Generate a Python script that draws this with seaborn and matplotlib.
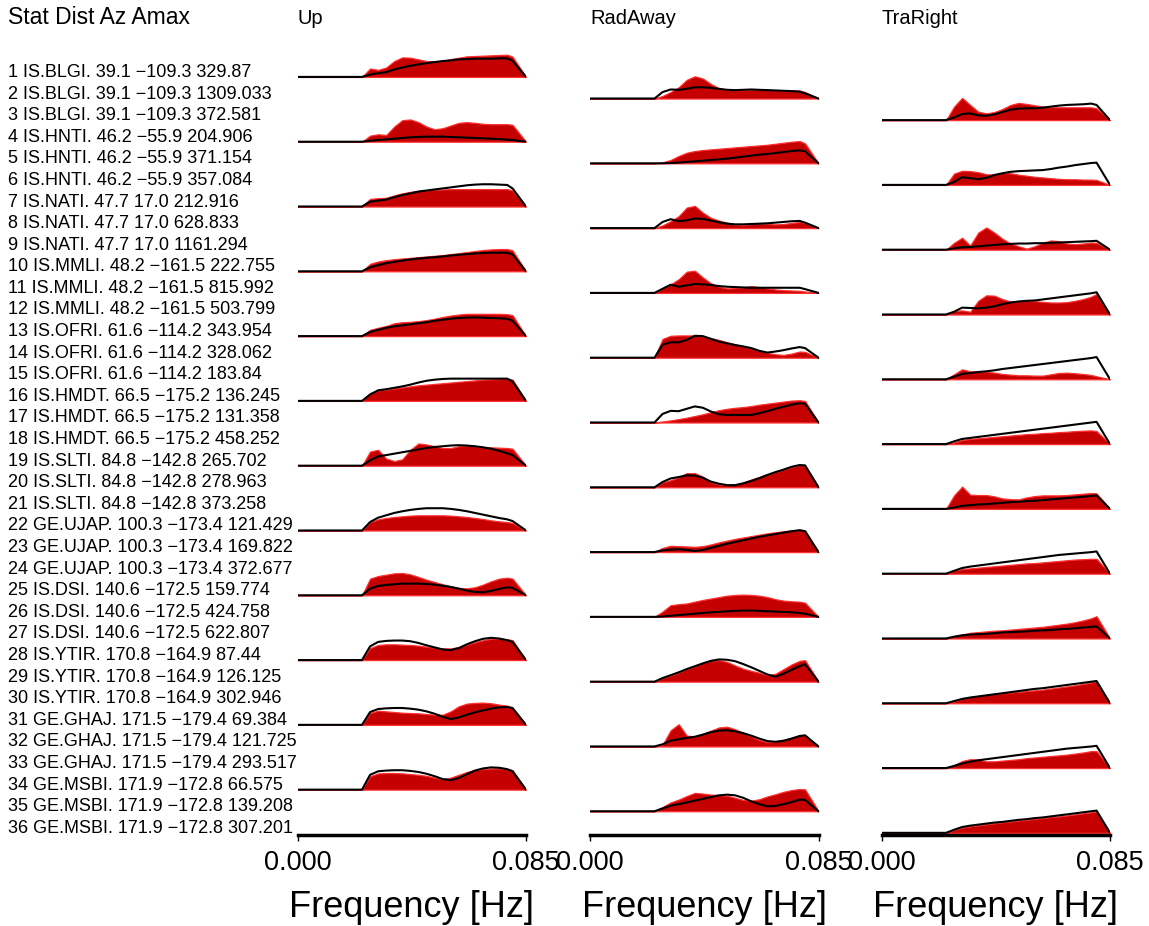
import numpy as np
import seaborn as sns
import matplotlib
matplotlib.use("Agg")
import matplotlib.pyplot as plt
from matplotlib.transforms import blended_transform_factory

# Frequency samples (Hz) shared by every spectrum
freq = [0.0, 0.024, 0.027, 0.030, 0.033, 0.036, 0.039, 0.042, 0.045, 0.048, 0.051,
        0.054, 0.057, 0.060, 0.063, 0.066, 0.069, 0.072, 0.075, 0.078, 0.080, 0.085]

components = ["Up", "RadAway", "TraRight"]
freq_ticks = [0.0, 0.085]
freq_ticklabels = ["0.000", "0.085"]

# Stations (each one contributes three rows: Up, RadAway, TraRight)
station_codes = ["IS.BLGI.", "IS.HNTI.", "IS.NATI.", "IS.MMLI.", "IS.OFRI.", "IS.HMDT.",
                 "IS.SLTI.", "GE.UJAP.", "IS.DSI.", "IS.YTIR.", "GE.GHAJ.", "GE.MSBI."]
station_dist = [39.1, 46.2, 47.7, 48.2, 61.6, 66.5, 84.8, 100.3, 140.6, 170.8, 171.5, 171.9]
station_az = [-109.3, -55.9, 17.0, -161.5, -114.2, -175.2, -142.8, -173.4, -172.5,
              -164.9, -179.4, -172.8]
amax = [329.87, 1309.033, 372.581, 204.906, 371.154, 357.084, 212.916, 628.833, 1161.294,
        222.755, 815.992, 503.799, 343.954, 328.062, 183.84, 136.245, 131.358, 458.252,
        265.702, 278.963, 373.258, 121.429, 169.822, 372.677, 159.774, 424.758, 622.807,
        87.44, 126.125, 302.946, 69.384, 121.725, 293.517, 66.575, 139.208, 307.201]

# Observed (filled) and synthetic (line) amplitude spectra, arbitrary units
obs_01 = [0, 0, 25, 21, 28, 47, 58, 57, 52, 47, 46, 48, 53, 57, 61, 62, 63, 64, 65, 66, 60, 0]
syn_01 = [0, 0, 7, 11, 14, 22, 28, 33, 37, 41, 44, 47, 49, 52, 53, 54, 54, 54, 55, 55, 48, 0]
obs_02 = [0, 0, 8, 20, 35, 58, 69, 62, 45, 32, 27, 26, 26, 27, 27, 27, 26, 26, 26, 25, 20, 0]
syn_02 = [0, 0, 20, 28, 27, 30, 35, 35, 33, 30, 27, 26, 27, 28, 27, 26, 25, 24, 23, 21, 16, 0]
obs_03 = [0, 0, 40, 66, 45, 25, 20, 24, 33, 45, 51, 48, 44, 40, 38, 38, 38, 38, 38, 38, 35, 0]
syn_03 = [0, 0, 8, 18, 20, 14, 13, 17, 24, 31, 34, 35, 35, 37, 40, 43, 45, 46, 47, 49, 45, 0]
obs_04 = [0, 0, 18, 22, 20, 45, 64, 66, 58, 45, 37, 40, 48, 56, 58, 56, 53, 52, 52, 52, 50, 0]
syn_04 = [0, 0, 3, 5, 7, 9, 11, 13, 14, 15, 15, 15, 14, 13, 12, 11, 10, 9, 8, 6, 5, 0]
obs_05 = [0, 0, 3, 10, 22, 32, 37, 40, 42, 44, 46, 48, 50, 52, 54, 56, 59, 62, 65, 67, 60, 0]
syn_05 = [0, 0, 0, 1, 2, 4, 6, 8, 10, 12, 14, 17, 20, 23, 26, 28, 31, 34, 37, 39, 36, 0]
obs_06 = [0, 0, 32, 40, 39, 36, 30, 30, 34, 33, 29, 26, 23, 21, 19, 17, 16, 16, 15, 15, 14, 0]
syn_06 = [0, 0, 8, 22, 19, 16, 20, 28, 33, 37, 39, 40, 41, 42, 45, 49, 52, 56, 59, 62, 63, 0]
obs_07 = [0, 0, 22, 24, 25, 32, 38, 42, 45, 47, 48, 49, 50, 50, 50, 50, 50, 50, 50, 50, 46, 0]
syn_07 = [0, 0, 14, 17, 20, 27, 33, 38, 43, 46, 49, 52, 55, 58, 61, 63, 64, 64, 63, 62, 52, 0]
obs_08 = [0, 0, 8, 20, 35, 60, 65, 45, 30, 22, 16, 10, 8, 12, 13, 12, 11, 12, 15, 18, 15, 0]
syn_08 = [0, 0, 18, 26, 20, 23, 28, 27, 22, 17, 13, 11, 11, 12, 13, 14, 16, 18, 20, 21, 16, 0]
obs_09 = [0, 0, 20, 35, 12, 50, 65, 50, 32, 18, 10, 3, 10, 20, 27, 25, 18, 16, 18, 21, 20, 0]
syn_09 = [0, 0, 4, 7, 8, 10, 12, 14, 16, 17, 18, 18, 19, 19, 20, 21, 22, 23, 24, 25, 26, 0]
obs_10 = [0, 0, 22, 29, 33, 36, 38, 40, 42, 44, 46, 48, 51, 54, 57, 60, 63, 65, 66, 66, 62, 0]
syn_10 = [0, 0, 12, 18, 24, 28, 32, 35, 38, 40, 42, 44, 47, 49, 51, 53, 54, 55, 55, 55, 50, 0]
obs_11 = [0, 0, 12, 25, 40, 62, 65, 45, 28, 18, 13, 14, 16, 20, 17, 13, 10, 8, 7, 6, 4, 0]
syn_11 = [0, 0, 12, 24, 18, 22, 26, 25, 23, 20, 18, 17, 16, 15, 15, 15, 15, 15, 15, 15, 11, 0]
obs_12 = [0, 0, 10, 12, 8, 40, 56, 55, 45, 38, 39, 40, 39, 37, 35, 35, 36, 40, 45, 52, 60, 0]
syn_12 = [0, 0, 8, 20, 19, 18, 20, 24, 30, 35, 38, 40, 41, 44, 47, 50, 53, 56, 59, 62, 65, 0]
obs_13 = [0, 0, 18, 24, 29, 37, 40, 41, 43, 46, 50, 55, 59, 62, 64, 64, 64, 64, 64, 63, 60, 0]
syn_13 = [0, 0, 12, 18, 24, 28, 31, 34, 37, 40, 44, 47, 50, 52, 53, 54, 53, 52, 51, 50, 44, 0]
obs_14 = [0, 0, 55, 64, 65, 65, 65, 62, 57, 52, 45, 39, 33, 27, 20, 14, 10, 8, 12, 18, 17, 0]
syn_14 = [0, 0, 38, 45, 45, 52, 64, 63, 55, 47, 42, 37, 33, 28, 20, 15, 18, 22, 27, 31, 28, 0]
obs_15 = [0, 0, 15, 30, 24, 23, 23, 20, 16, 14, 12, 12, 11, 11, 15, 19, 20, 18, 16, 13, 9, 0]
syn_15 = [0, 0, 8, 16, 19, 22, 24, 27, 31, 34, 37, 40, 43, 46, 49, 52, 55, 58, 61, 64, 67, 0]
obs_16 = [0, 0, 22, 30, 32, 35, 38, 41, 44, 46, 48, 50, 52, 54, 56, 58, 60, 61, 62, 63, 60, 0]
syn_16 = [0, 0, 18, 30, 33, 37, 41, 46, 52, 57, 60, 62, 63, 63, 63, 63, 63, 63, 63, 63, 55, 0]
obs_17 = [0, 0, 3, 6, 10, 14, 19, 24, 30, 36, 40, 43, 45, 48, 52, 55, 58, 61, 64, 65, 63, 0]
syn_17 = [0, 0, 25, 34, 33, 40, 47, 43, 32, 24, 22, 22, 22, 22, 27, 33, 40, 46, 52, 56, 55, 0]
obs_18 = [0, 0, 5, 12, 15, 17, 19, 21, 23, 25, 27, 29, 30, 32, 33, 35, 36, 38, 39, 40, 38, 0]
syn_18 = [0, 0, 8, 15, 18, 21, 24, 27, 30, 33, 36, 39, 42, 45, 48, 51, 54, 57, 60, 63, 65, 0]
obs_19 = [0, 0, 40, 45, 20, 13, 18, 45, 63, 60, 55, 50, 50, 55, 57, 55, 53, 52, 51, 50, 48, 0]
syn_19 = [0, 0, 15, 26, 30, 34, 38, 42, 46, 50, 53, 55, 57, 58, 57, 55, 52, 48, 42, 35, 30, 0]
obs_20 = [0, 0, 14, 20, 28, 40, 40, 30, 14, 8, 6, 8, 14, 22, 29, 36, 43, 50, 57, 63, 62, 0]
syn_20 = [0, 0, 15, 25, 29, 34, 33, 27, 16, 10, 6, 6, 11, 18, 26, 35, 43, 50, 58, 63, 62, 0]
obs_21 = [0, 0, 40, 66, 42, 41, 41, 37, 31, 29, 28, 34, 38, 40, 40, 40, 41, 43, 45, 47, 46, 0]
syn_21 = [0, 0, 4, 9, 11, 13, 14, 16, 18, 20, 21, 23, 24, 26, 28, 30, 32, 34, 36, 38, 40, 0]
obs_22 = [0, 0, 24, 33, 37, 40, 42, 44, 45, 45, 45, 45, 44, 42, 40, 37, 34, 30, 27, 25, 22, 0]
syn_22 = [0, 0, 25, 38, 45, 52, 57, 61, 64, 66, 66, 66, 64, 61, 57, 52, 47, 42, 37, 33, 28, 0]
obs_23 = [0, 0, 12, 18, 17, 16, 15, 17, 22, 28, 33, 38, 42, 46, 50, 54, 57, 60, 62, 64, 62, 0]
syn_23 = [0, 0, 5, 7, 8, 6, 3, 6, 12, 18, 24, 29, 34, 39, 44, 48, 52, 56, 60, 63, 60, 0]
obs_24 = [0, 0, 8, 13, 15, 17, 19, 21, 23, 25, 27, 29, 30, 32, 34, 36, 38, 40, 41, 42, 42, 0]
syn_24 = [0, 0, 8, 16, 20, 23, 26, 29, 32, 35, 38, 41, 44, 47, 50, 53, 55, 57, 59, 61, 63, 0]
obs_25 = [0, 0, 50, 58, 62, 66, 67, 63, 55, 47, 40, 33, 27, 22, 21, 24, 32, 42, 50, 53, 50, 0]
syn_25 = [0, 0, 20, 28, 31, 33, 35, 35, 35, 34, 32, 29, 25, 20, 14, 10, 9, 13, 19, 24, 22, 0]
obs_26 = [0, 0, 15, 33, 36, 38, 43, 48, 52, 56, 60, 62, 63, 62, 60, 56, 50, 46, 44, 43, 40, 0]
syn_26 = [0, 0, 1, 3, 5, 7, 9, 11, 13, 14, 16, 17, 18, 18, 17, 16, 15, 14, 13, 11, 9, 0]
obs_27 = [0, 0, 6, 11, 16, 18, 20, 22, 23, 25, 27, 29, 31, 33, 36, 39, 42, 46, 51, 57, 63, 0]
syn_27 = [0, 0, 5, 9, 11, 12, 13, 15, 17, 18, 19, 20, 22, 23, 24, 26, 27, 29, 31, 33, 34, 0]
obs_28 = [0, 0, 35, 44, 46, 46, 45, 44, 42, 39, 36, 34, 34, 38, 45, 52, 58, 62, 63, 61, 58, 0]
syn_28 = [0, 0, 40, 53, 56, 57, 57, 55, 50, 43, 37, 31, 29, 35, 46, 55, 62, 65, 63, 58, 53, 0]
obs_29 = [0, 0, 10, 17, 25, 35, 43, 52, 58, 60, 55, 45, 36, 30, 25, 18, 22, 35, 48, 58, 60, 0]
syn_29 = [0, 0, 10, 18, 26, 35, 43, 51, 58, 62, 61, 57, 49, 40, 30, 20, 14, 22, 33, 43, 49, 0]
obs_30 = [0, 0, 5, 12, 17, 20, 23, 26, 28, 30, 32, 34, 36, 38, 41, 44, 47, 50, 54, 58, 61, 0]
syn_30 = [0, 0, 6, 12, 16, 19, 22, 25, 28, 31, 34, 37, 40, 42, 45, 48, 51, 54, 57, 60, 62, 0]
obs_31 = [0, 0, 35, 42, 40, 38, 36, 35, 34, 32, 30, 30, 40, 55, 63, 65, 66, 64, 60, 57, 50, 0]
syn_31 = [0, 0, 38, 47, 49, 50, 50, 48, 45, 40, 33, 24, 17, 22, 30, 37, 43, 48, 52, 53, 50, 0]
obs_32 = [0, 0, 5, 45, 62, 30, 28, 35, 44, 53, 55, 48, 38, 28, 18, 12, 13, 18, 24, 32, 30, 0]
syn_32 = [0, 0, 6, 16, 20, 24, 27, 33, 40, 44, 45, 42, 37, 30, 22, 15, 13, 16, 22, 29, 31, 0]
obs_33 = [0, 0, 8, 20, 25, 24, 19, 19, 21, 23, 25, 28, 30, 32, 34, 36, 38, 41, 44, 48, 48, 0]
syn_33 = [0, 0, 6, 13, 18, 22, 25, 28, 31, 34, 37, 40, 43, 46, 49, 52, 55, 57, 59, 61, 63, 0]
obs_34 = [0, 0, 38, 46, 47, 47, 46, 44, 42, 39, 34, 30, 34, 42, 50, 56, 58, 60, 60, 58, 55, 0]
syn_34 = [0, 0, 42, 52, 54, 55, 55, 53, 50, 45, 38, 30, 27, 33, 44, 54, 60, 63, 62, 58, 52, 0]
obs_35 = [0, 0, 12, 25, 33, 43, 52, 50, 47, 46, 44, 38, 32, 30, 34, 42, 48, 55, 60, 63, 62, 0]
syn_35 = [0, 0, 8, 16, 20, 25, 30, 35, 40, 45, 47, 45, 38, 28, 20, 14, 15, 20, 26, 33, 32, 0]
obs_36 = [0, 0, 8, 15, 19, 22, 25, 28, 31, 33, 36, 38, 41, 43, 46, 48, 51, 54, 57, 60, 62, 0]
syn_36 = [0, 0, 9, 17, 21, 24, 27, 30, 32, 35, 38, 40, 43, 45, 48, 51, 54, 57, 60, 63, 65, 0]

observed = [obs_01, obs_02, obs_03, obs_04, obs_05, obs_06, obs_07, obs_08, obs_09,
            obs_10, obs_11, obs_12, obs_13, obs_14, obs_15, obs_16, obs_17, obs_18,
            obs_19, obs_20, obs_21, obs_22, obs_23, obs_24, obs_25, obs_26, obs_27,
            obs_28, obs_29, obs_30, obs_31, obs_32, obs_33, obs_34, obs_35, obs_36]
synthetic = [syn_01, syn_02, syn_03, syn_04, syn_05, syn_06, syn_07, syn_08, syn_09,
             syn_10, syn_11, syn_12, syn_13, syn_14, syn_15, syn_16, syn_17, syn_18,
             syn_19, syn_20, syn_21, syn_22, syn_23, syn_24, syn_25, syn_26, syn_27,
             syn_28, syn_29, syn_30, syn_31, syn_32, syn_33, syn_34, syn_35, syn_36]

sns.set_theme(style="white")
plt.rcParams["font.family"] = ["Liberation Sans", "DejaVu Sans"]

W, H = 1149, 926
fig = plt.figure(figsize=(W / 100, H / 100), dpi=100)

n_rows = len(amax)
y_top, y_bottom = 1.2, -(n_rows - 1) - 0.1
ax_top_px, ax_bot_px = 51, 835
panel_left_px = [297.5, 590.0, 881.5]
panel_width_px = 228.5
axes = [fig.add_axes([l / W, 1 - ax_bot_px / H, panel_width_px / W,
                      (ax_bot_px - ax_top_px) / H]) for l in panel_left_px]

PEAK = 1.03  # height of each normalised spectrum, in row spacings
fill_color, edge_color = "#c40000", "#ff3030"

for i in range(n_rows):
    ax = axes[i % 3]
    base = -i
    o = np.asarray(observed[i], float)
    s = np.asarray(synthetic[i], float)
    scale = PEAK / max(o.max(), s.max())
    ax.fill_between(freq, base, base + o * scale, facecolor=fill_color,
                    edgecolor=edge_color, linewidth=0.9, zorder=2)
    sns.lineplot(x=freq, y=base + s * scale, ax=ax, color="black", linewidth=1.5,
                 estimator=None, sort=False, zorder=3)

for ax, name, lpx in zip(axes, components, panel_left_px):
    ax.set_xlim(freq_ticks[0], freq_ticks[-1])
    ax.set_ylim(y_bottom, y_top)
    ax.set_yticks([])
    ax.set_xticks(freq_ticks, freq_ticklabels)
    for side in ("left", "top", "right"):
        ax.spines[side].set_visible(False)
    ax.spines["bottom"].set_color("black")
    ax.spines["bottom"].set_linewidth(2.5)
    ax.tick_params(axis="x", bottom=True, direction="out", length=4, width=1.0,
                   color="black", pad=7, labelsize=19.5, labelcolor="black")
    ax.set_xlabel("Frequency [Hz]", fontsize=26, labelpad=10, color="black")
    ax.patch.set_alpha(0)
    fig.text(lpx / W, 1 - 18 / H, name, fontsize=14.5, va="center", ha="left",
             color="black")

# Station list along the left edge, aligned with each trace's baseline
trans = blended_transform_factory(fig.transFigure, axes[0].transData)
for i in range(n_rows):
    k = i // 3
    az = f"{station_az[k]:.1f}".replace("-", "\u2212")
    label = f"{i + 1} {station_codes[k]} {station_dist[k]:.1f} {az} {amax[i]}"
    axes[0].text(8 / W, -i, label, transform=trans, fontsize=13, va="baseline",
                 ha="left", color="black", clip_on=False)

fig.text(8 / W, 1 - 18 / H, "Stat Dist Az Amax", fontsize=16.5, va="center",
         ha="left", color="black")

fig.savefig("out.png", dpi=100, facecolor="white")
